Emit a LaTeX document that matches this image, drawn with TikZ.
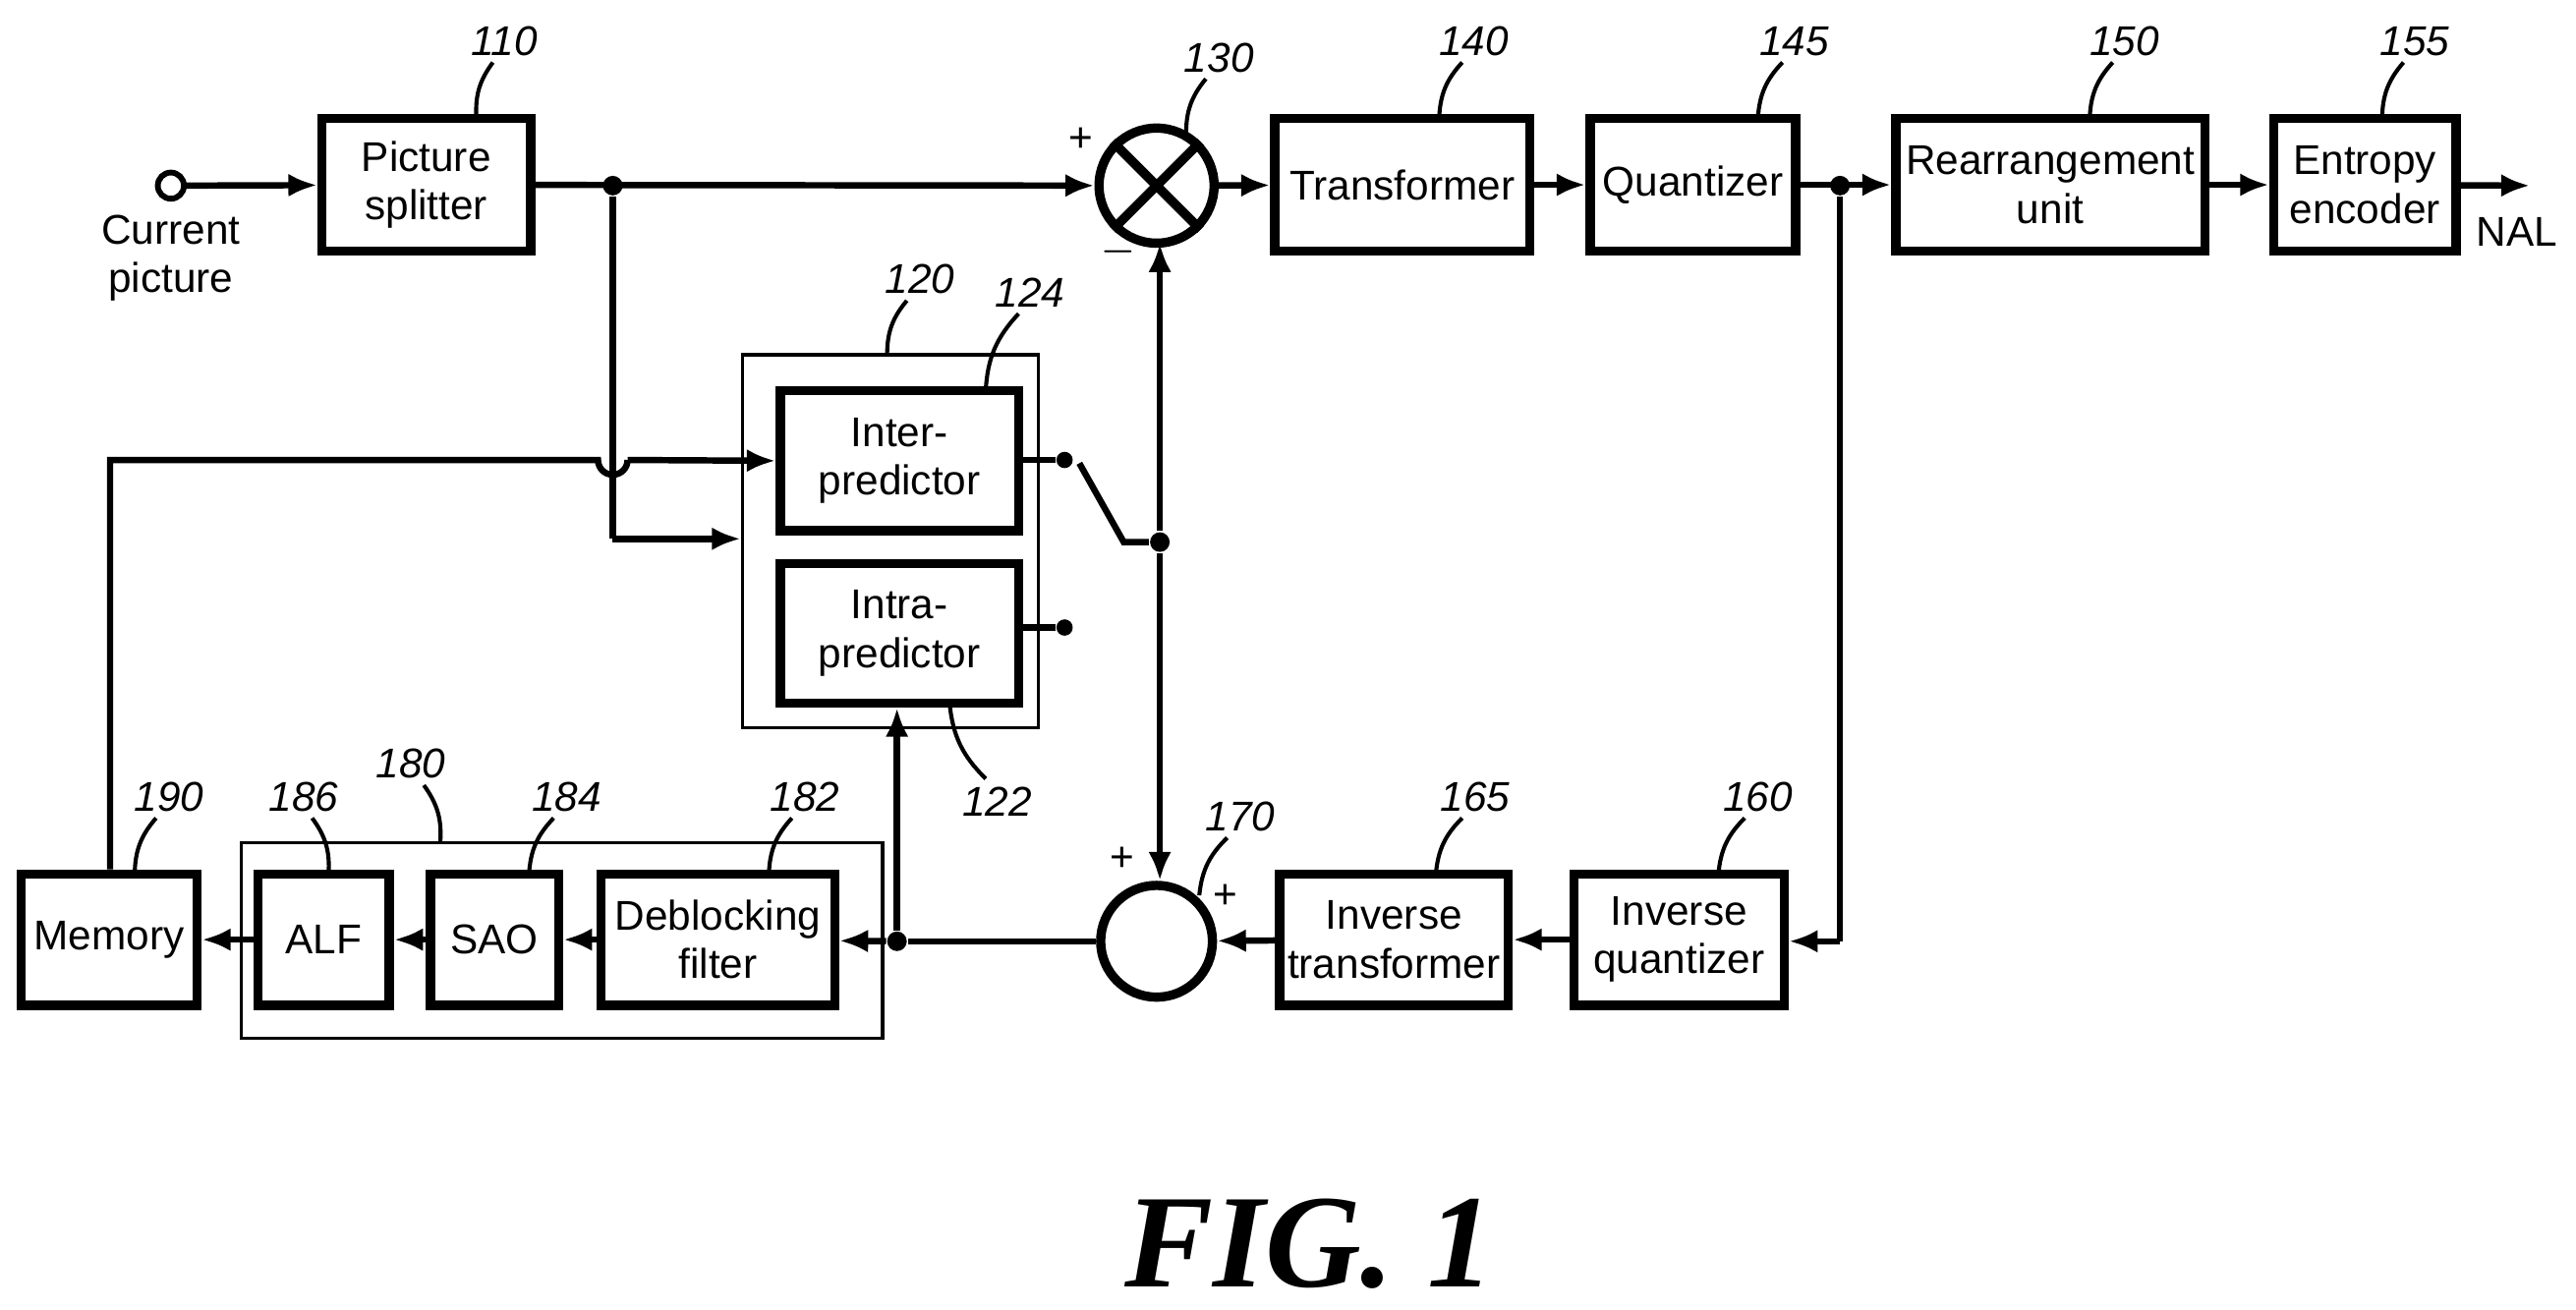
\documentclass[tikz,border=0pt]{standalone}
\usepackage{fontspec}
\setmainfont{Liberation Sans}
\newfontfamily\figfont{Liberation Serif}
\usetikzlibrary{arrows.meta}
\begin{document}
\begin{tikzpicture}[x=0.01cm,y=-0.01cm,
  every node/.style={font=\fontsize{7.2}{8.4}\selectfont},
  blk/.style={draw,line width=1.6pt,align=center,inner sep=0pt},
  outer/.style={draw,line width=0.6pt},
  ln/.style={line width=1.1pt},
  ar/.style={ln,-{Latex[length=5pt,width=4pt]}},
  num/.style={font=\fontsize{7.2}{8.4}\selectfont\itshape},
  dot/.style={circle,fill,inner sep=1.2pt}]
\useasboundingbox (0,0) rectangle (1568,797);
% top row
\node[draw,circle,line width=1pt,inner sep=1.6pt] (in) at (104,113) {};
\node[align=center] (cp) at (104,157) {Current\\picture};
\node[blk,minimum width=1.27cm,minimum height=0.81cm] (ps) at (259.5,112.5) {Picture\\splitter};
\node[draw,circle,line width=1.6pt,minimum size=0.7cm,inner sep=0pt] (mul) at (704,113) {};
\draw[line width=1.6pt] (mul.45) -- (mul.225) (mul.135) -- (mul.315);
\node[blk,minimum width=1.55cm,minimum height=0.81cm] (tr) at (853.5,112.5) {Transformer};
\node[blk,minimum width=1.25cm,minimum height=0.81cm] (qu) at (1030.5,112.5) {Quantizer};
\node[blk,minimum width=1.88cm,minimum height=0.81cm] (ru) at (1248,112.5) {Rearrangement\\unit};
\node[blk,minimum width=1.11cm,minimum height=0.81cm] (ee) at (1439.5,112.5) {Entropy\\encoder};
\coordinate (out) at (1540,113);
\node (nal) at (1532,141) {NAL};
\node[dot] (j1) at (373,113) {};
\node[dot] (j2) at (1120,113) {};
\draw[ar] (in) -- (ps);
\draw[ar] (ps) -- (mul);
\draw[ar] (mul) -- (tr);
\draw[ar] (tr) -- (qu);
\draw[ar] (qu) -- (ru);
\draw[ar] (ru) -- (ee);
\draw[ar] (ee) -- (out);
\node at (658,85) {+};
\node at (681,153) {$-$};
% predictor
\node[outer,minimum width=1.8cm,minimum height=2.27cm] (p120) at (542,329.5) {};
\node[blk,minimum width=1.45cm,minimum height=0.85cm] (inter) at (547.5,280.5) {Inter-\\predictor};
\node[blk,minimum width=1.45cm,minimum height=0.85cm] (intra) at (547.5,385.5) {Intra-\\predictor};
\node[dot,inner sep=1pt] (d1) at (648,280) {};
\node[dot,inner sep=1pt] (d2) at (648,382) {};
\draw[ln] (620,280) -- (d1);
\draw[ln] (620,382) -- (d2);
\coordinate (sw1) at (657,282);
\coordinate (sw2) at (684,330);
\node[dot] (j3) at (706,330) {};
\draw[ln] (sw1) -- (sw2) -- (j3);
\draw[ar] (j3) -- (706,148);
\node[draw,circle,line width=1.6pt,minimum size=0.68cm,inner sep=0pt] (add) at (704,573) {};
\draw[ar] (j3) -- (add.north -| j3);
\node at (683,523) {+};
\node at (746,546) {+};
% bottom row
\node[blk,minimum width=1.39cm,minimum height=0.8cm] (it) at (848.5,572) {Inverse\\transformer};
\node[blk,minimum width=1.28cm,minimum height=0.8cm] (iq) at (1022,572) {Inverse\\quantizer};
\node[outer,minimum width=3.9cm,minimum height=1.19cm] (f180) at (342,572.5) {};
\node[blk,minimum width=1.42cm,minimum height=0.8cm] (db) at (437,572) {Deblocking\\filter};
\node[blk,minimum width=0.78cm,minimum height=0.8cm] (sao) at (301,572) {SAO};
\node[blk,minimum width=0.8cm,minimum height=0.8cm] (alf) at (197,572) {ALF};
\node[blk,minimum width=1.07cm,minimum height=0.8cm] (mem) at (66.5,572) {Memory};
\coordinate (c1) at (1120,573);
\draw[ln] (j2) -- (c1);
\draw[ar] (c1) -- (iq.east |- c1);
\draw[ar] (iq) -- (it);
\draw[ar] (it) -- (add);
\node[dot] (j4) at (546,573) {};
\draw[ln] (add) -- (j4);
\draw[ar] (j4) -- (db);
\draw[ar] (db) -- (sao);
\draw[ar] (sao) -- (alf);
\draw[ar] (alf) -- (mem);
\draw[ar] (j4) -- (intra.south -| j4);
% feedback
\coordinate (m1) at (67,280);
\draw[ln] (mem.north -| m1) -- (m1) -- (364,280) arc (180:0:9) -- (382,280);
\draw[ar] (382,280) -- (inter.west);
\coordinate (c2) at (373,328);
\draw[ln] (j1) -- (c2);
\draw[ar] (c2) -- (p120.west |- c2);
% reference numbers
\tikzset{lead/.style={line width=0.7pt}}
\node[num] (n110) at (307,25) {110}; \draw[lead] (300,38) to[bend right=20] (290,72);
\node[num] (n130) at (742,35) {130}; \draw[lead] (734,48) to[bend right=20] (722,82);
\node[num] (n140) at (897,25) {140}; \draw[lead] (890,38) to[bend right=20] (876,72);
\node[num] (n145) at (1092,25) {145}; \draw[lead] (1085,38) to[bend right=20] (1070,72);
\node[num] (n150) at (1293,25) {150}; \draw[lead] (1286,38) to[bend right=20] (1272,72);
\node[num] (n155) at (1470,25) {155}; \draw[lead] (1463,38) to[bend right=20] (1450,72);
\node[num] (n120) at (560,170) {120}; \draw[lead] (552,183) to[bend right=20] (540,216);
\node[num] (n124) at (627,178) {124}; \draw[lead] (620,191) to[bend right=20] (600,238);
\node[num] (n122) at (607,488) {122}; \draw[lead] (600,474) to[bend left=20] (578,428);
\node[num] (n170) at (755,497) {170}; \draw[lead] (747,510) to[bend right=20] (730,545);
\node[num] (n165) at (898,485) {165}; \draw[lead] (890,498) to[bend right=20] (874,532);
\node[num] (n160) at (1070,485) {160}; \draw[lead] (1062,498) to[bend right=20] (1046,532);
\node[num] (n182) at (490,485) {182}; \draw[lead] (482,498) to[bend right=20] (468,532);
\node[num] (n180) at (250,465) {180}; \draw[lead] (258,478) to[bend left=20] (268,513);
\node[num] (n184) at (345,485) {184}; \draw[lead] (337,498) to[bend right=20] (322,532);
\node[num] (n186) at (185,485) {186}; \draw[lead] (190,498) to[bend left=20] (200,532);
\node[num] (n190) at (103,485) {190}; \draw[lead] (95,498) to[bend right=20] (82,532);
\node[font=\figfont\bfseries\itshape\fontsize{23}{26}\selectfont] (fig) at (797,757) {FIG. 1};
\end{tikzpicture}
\end{document}
